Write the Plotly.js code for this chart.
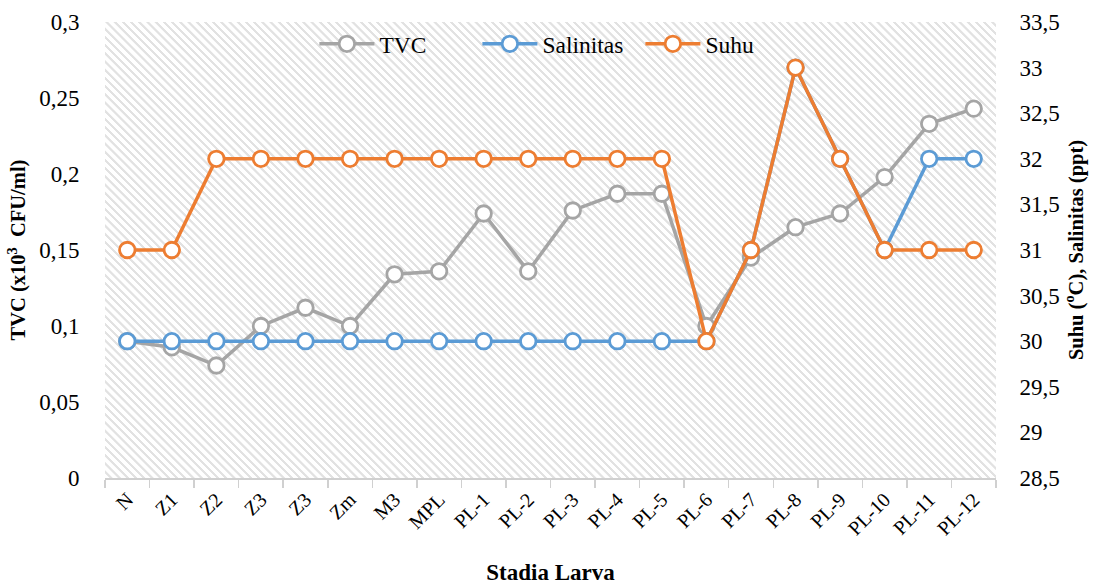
<!DOCTYPE html>
<html>
<head>
<meta charset="utf-8">
<script src="https://cdn.plot.ly/plotly-3.0.1.min.js"></script>
<style>
html,body{margin:0;padding:0;background:#fff;}
#wrap{position:relative;width:1093px;height:585px;}
#bg{position:absolute;left:105px;top:22px;width:891px;height:456px;
background:repeating-linear-gradient(45deg,#ffffff 0px,#ffffff 3.2px,#e2e2e2 3.6px,#e2e2e2 5.4px,#ffffff 5.8px);}
#chart{position:absolute;left:0;top:0;width:1093px;height:585px;}
</style>
</head>
<body>
<div id="wrap"><div id="bg"></div><div id="chart"></div></div>
<script>
// Categories (second "Z3" carries a zero-width space so both stages stay distinct)
const stages = ["N","Z1","Z2","Z3","Z3\u200b","Zm","M3","MPL","PL-1","PL-2","PL-3","PL-4","PL-5","PL-6","PL-7","PL-8","PL-9","PL-10","PL-11","PL-12"];
const tvc = [0.09,0.086,0.074,0.1,0.112,0.1,0.134,0.136,0.174,0.136,0.176,0.187,0.187,0.1,0.145,0.165,0.174,0.198,0.233,0.243];
const salinitas = [30,30,30,30,30,30,30,30,30,30,30,30,30,30,31,33,32,31,32,32];
const suhu = [31,31,32,32,32,32,32,32,32,32,32,32,32,30,31,33,32,31,31,31];

const FONT = "'Liberation Serif', 'Times New Roman', Tinos, 'DejaVu Serif', serif";
function series(name, y, color, axis){
  return {type:"scatter", mode:"lines+markers", name:name, x:stages, y:y, yaxis:axis,
    line:{color:color, width:3.5},
    marker:{symbol:"circle", size:15.5, color:"#ffffff", line:{color:color, width:2.8}},
    cliponaxis:false};
}
const data = [
  series("TVC", tvc, "#a5a5a5", "y"),
  series("Salinitas", salinitas, "#5b9bd5", "y2"),
  series("Suhu", suhu, "#ed7d31", "y2")
];
const layout = {
  width:1093, height:585,
  margin:{l:105, r:97, t:22, b:107},
  paper_bgcolor:"rgba(0,0,0,0)", plot_bgcolor:"rgba(0,0,0,0)",
  separators:", ",
  font:{family:FONT, size:20, color:"#000"},
  showlegend:true,
  legend:{orientation:"h", x:0.235, xanchor:"left", y:1.0, yanchor:"top",
    bgcolor:"rgba(0,0,0,0)", font:{family:FONT, size:23.5}, itemwidth:55,
    entrywidth:93, entrywidthmode:"pixels", traceorder:"normal"},
  xaxis:{type:"category", tickson:"boundaries", ticks:"outside", ticklen:8, tickwidth:1.5,
    tickcolor:"#d0d0d0", showline:true, linecolor:"#d0d0d0", linewidth:2, showgrid:false,
    zeroline:false, tickangle:-45, tickfont:{family:FONT, size:20},
    title:{text:"Stadia Larva", font:{family:FONT, size:23, weight:"bold"}, standoff:30},
    range:[-0.5,19.5], automargin:false},
  yaxis:{range:[0,0.3], dtick:0.05, showgrid:false, zeroline:false, showline:false,
    ticks:"outside", ticklen:20, tickcolor:"rgba(0,0,0,0)", tickfont:{family:FONT, size:23},
    title:{text:"TVC (x10<sup>3</sup>  CFU/ml)", font:{family:FONT, size:20.5, weight:"bold"}, standoff:7},
    automargin:false},
  yaxis2:{range:[28.5,33.5], dtick:0.5, overlaying:"y", side:"right", showgrid:false,
    zeroline:false, showline:false, ticks:"outside", ticklen:18, tickcolor:"rgba(0,0,0,0)",
    tickfont:{family:FONT, size:23},
    title:{text:"Suhu (<sup>o</sup>C), Salinitas (ppt)", font:{family:FONT, size:20.5, weight:"bold"}, standoff:9},
    automargin:false}
};
Plotly.newPlot("chart", data, layout, {displayModeBar:false, staticPlot:true});
</script>
</body>
</html>
